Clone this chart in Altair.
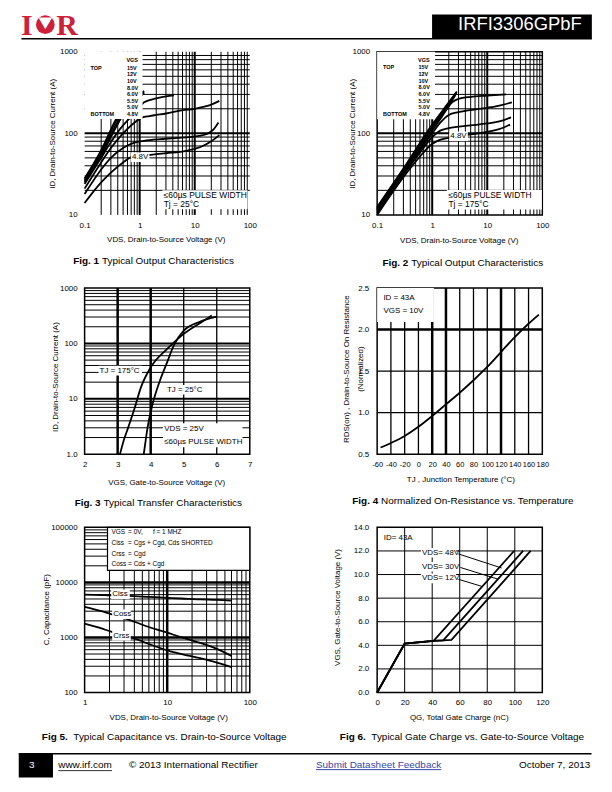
import altair as alt
import pandas as pd

FONT = "Liberation Sans"
SERIF = "Liberation Serif"
RED = "#cf1f3a"
LINK = "#3646a8"

W = 166
H1, H2, H3 = 164, 167, 166
O1 = (83.5, 49.0)  # page position of panel-1 plot origin (for page decorations)

# ---------------- Fig. 1 : Typical output characteristics, Tj = 25 C ----------------
f1_xticks = [0.1, 1, 10, 100]
f1_yticks = [10, 100, 1000]
f1_xgrid = [0.2, 0.3, 0.4, 0.5, 0.6, 0.7, 0.8, 0.9, 1, 2, 3, 4, 5, 6, 7, 8, 9, 10,
            20, 30, 40, 50, 60, 70, 80, 90]
f1_xmajor = [1, 10]
f1_ygrid = [20, 30, 40, 50, 60, 70, 80, 90, 100, 200, 300, 400, 500, 600, 700, 800, 900]
f1_ymajor = [100]
f1_legend = ["15V", "12V", "10V", "8.0V", "6.0V", "5.5V", "5.0V", "4.8V"]
f1_v_15 = [0.1, 0.2, 0.37, 0.6, 1.0, 1.2]
f1_i_15 = [28, 62, 148, 240, 300, 330]
f1_v_12 = [0.1, 0.2, 0.38, 0.6, 1.0, 1.2]
f1_i_12 = [27, 59, 145, 228, 292, 325]
f1_v_10 = [0.1, 0.2, 0.4, 0.6, 1.0, 1.2]
f1_i_10 = [26, 56, 140, 215, 285, 318]
f1_v_8 = [0.1, 0.2, 0.42, 0.6, 1.0, 1.2]
f1_i_8 = [25, 53, 138, 200, 275, 312]
f1_v_6 = [0.1, 0.2, 0.3, 0.45, 0.7, 1.0, 1.2, 2.0, 3.0, 4.2]
f1_i_6 = [24, 50, 78, 115, 160, 210, 240, 268, 283, 292]
f1_v_55 = [0.1, 0.2, 0.3, 0.5, 0.8, 1.1, 1.5, 2.0, 3.0, 6.0, 10, 15, 20, 28]
f1_i_55 = [21, 44, 66, 100, 135, 156, 163, 168, 175, 192, 200, 212, 225, 250]
f1_v_50 = [0.1, 0.2, 0.3, 0.5, 0.8, 1.2, 2.4, 5, 8, 12, 17, 22, 27]
f1_i_50 = [18, 36, 50, 66, 77, 81, 85, 88, 90, 93, 99, 112, 136]
f1_v_48 = [0.1, 0.2, 0.3, 0.5, 0.7, 1.0, 1.4, 3, 7, 14, 20, 28]
f1_i_48 = [14, 25, 33, 44, 51, 53, 54, 57, 61, 70, 80, 95]

# ---------------- Fig. 2 : Typical output characteristics, Tj = 175 C ----------------
f2_v_15 = [0.1, 0.3, 1.0, 2.0, 2.8]
f2_i_15 = [12.5, 37, 128, 240, 325]
f2_v_12 = [0.1, 0.3, 1.0, 2.0, 2.75]
f2_i_12 = [12.2, 36, 124, 233, 315]
f2_v_10 = [0.1, 0.3, 1.0, 2.0, 2.7]
f2_i_10 = [12.0, 35, 120, 226, 305]
f2_v_8 = [0.1, 0.3, 1.0, 2.0, 2.6]
f2_i_8 = [11.8, 34, 116, 218, 290]
f2_v_6 = [0.1, 0.3, 0.6, 1.0, 1.5, 2.3, 3.0, 5.0, 10, 22]
f2_i_6 = [11.5, 33, 65, 108, 160, 240, 265, 280, 290, 300]
f2_v_55 = [0.1, 0.3, 0.6, 1.0, 1.4, 2.0, 3.0, 7.0, 15, 28]
f2_i_55 = [11, 32, 62, 100, 135, 168, 182, 199, 215, 240]
f2_v_50 = [0.1, 0.3, 0.6, 1.0, 1.4, 2.0, 5.0, 10, 20, 27]
f2_i_50 = [10.5, 31, 58, 90, 108, 116, 125, 132, 145, 157]
f2_v_48 = [0.1, 0.3, 0.6, 0.9, 1.3, 2.0, 5.0, 10, 20, 26]
f2_i_48 = [10, 29, 52, 70, 82, 88, 97, 104, 118, 128]

# ---------------- Fig. 3 : Typical transfer characteristics ----------------
f3_xticks = [2, 3, 4, 5, 6, 7]
f3_yticks = [1, 10, 100, 1000]
f3_xgrid = [3, 4, 5, 6]
f3_xmajor = [3, 4]
f3_ygrid = [2, 3, 4, 5, 6, 7, 8, 9, 10, 20, 30, 40, 50, 60, 70, 80, 90, 100,
            200, 300, 400, 500, 600, 700, 800, 900]
f3_ymajor = [10, 100]
f3_vgs_175 = [3.07, 3.2, 3.31, 3.51, 3.71, 4.0, 4.5, 5.0, 5.5, 5.85]
f3_id_175 = [1.0, 1.9, 2.93, 6.7, 16.4, 37, 80, 149, 235, 320]
f3_vgs_25 = [3.79, 3.85, 3.9, 4.05, 4.3, 4.5, 4.7, 5.0, 5.5, 6.0]
f3_id_25 = [1.0, 1.8, 2.9, 7.7, 23, 46, 92, 170, 248, 305]

# ---------------- Fig. 4 : Normalized on-resistance vs temperature ----------------
f4_xticks = [-60, -40, -20, 0, 20, 40, 60, 80, 100, 120, 140, 160, 180]
f4_yticks = [0.5, 1.0, 1.5, 2.0, 2.5]
f4_xgrid = [-40, -20, 0, 20, 40, 60, 80, 100, 120, 140, 160]
f4_xmajor = [20, 40, 120]
f4_ygrid = [1.0, 1.5, 2.0]
f4_ymajor = [2.0]
f4_tj = [-55, -40, -20, 0, 20, 40, 60, 80, 100, 120, 140, 160, 175]
f4_rds = [0.58, 0.635, 0.72, 0.83, 0.96, 1.1, 1.24, 1.39, 1.55, 1.73, 1.91, 2.07, 2.18]

# ---------------- Fig. 5 : Typical capacitance vs VDS ----------------
f5_xticks = [1, 10, 100]
f5_yticks = [100, 1000, 10000, 100000]
f5_xgrid = [2, 3, 4, 5, 6, 7, 8, 9, 10, 20, 30, 40, 50, 60, 70, 80, 90]
f5_xmajor = [10]
f5_ygrid = [200, 300, 400, 500, 600, 700, 800, 900, 1000,
            2000, 3000, 4000, 5000, 6000, 7000, 8000, 9000, 10000,
            20000, 30000, 40000, 50000, 60000, 70000, 80000, 90000]
f5_ymajor = [1000, 10000]
f5_vds = [1, 1.6, 2, 3, 4, 6, 10, 15, 25, 40, 60]
f5_ciss = [6000, 5900, 5800, 5750, 5650, 5450, 5250, 5100, 4900, 4800, 4650]
f5_coss = [3600, 3000, 2700, 2250, 1930, 1550, 1220, 1000, 800, 620, 460]
f5_crss = [1780, 1460, 1300, 1100, 960, 760, 585, 500, 420, 350, 290]

# ---------------- Fig. 6 : Typical gate charge ----------------
f6_xticks = [0, 20, 40, 60, 80, 100, 120]
f6_yticks = [0, 2, 4, 6, 8, 10, 12, 14]
f6_xgrid = [20, 40, 60, 80, 100]
f6_ygrid = [2, 4, 6, 8, 10, 12]
f6_qg_48 = [0, 20, 41, 99.5]
f6_vgs_48 = [0, 4.15, 4.38, 12.0]
f6_qg_30 = [0, 20, 41, 48, 106]
f6_vgs_30 = [0, 4.15, 4.38, 4.42, 12.0]
f6_qg_12 = [0, 20, 41, 48, 54, 111.5]
f6_vgs_12 = [0, 4.15, 4.38, 4.42, 4.46, 12.0]
f6_lead_q1 = [59, 60.5, 59]
f6_lead_v1 = [11.75, 10.6, 9.6]
f6_lead_q2 = [90.5, 88, 76]
f6_lead_v2 = [10.55, 9.6, 9.0]

# ================= helpers =================
ONE = pd.DataFrame({"k": [0]})


def txt(x, y, s, size=8, align="left", weight="normal", color="black", font=FONT, baseline="middle"):
    return alt.Chart(ONE).mark_text(text=s, align=align, baseline=baseline, fontSize=size,
                                    fontWeight=weight, color=color, font=font).encode(
        x=alt.value(x), y=alt.value(y))


def rect(x, x2, y, y2, fill="white", stroke=None, sw=1.0):
    kw = dict(fill=fill, strokeWidth=sw)
    if stroke is not None:
        kw["stroke"] = stroke
    return alt.Chart(ONE).mark_rect(**kw).encode(
        x=alt.value(x), x2=alt.value(x2), y=alt.value(y), y2=alt.value(y2))


def hrule(x, x2, y, color="black", sw=1.0):
    return alt.Chart(ONE).mark_rule(color=color, strokeWidth=sw).encode(
        x=alt.value(x), x2=alt.value(x2), y=alt.value(y))


def bgtxt(x, y, s, size=8, pad=1.0):
    w = len(s) * size * 0.52
    return [rect(x - pad, x + w + pad, y - size * 0.6, y + size * 0.6), txt(x, y, s, size)]


def caption(x0, y, bold, rest, gap):
    return [txt(x0, y, bold, 10, weight="bold"), txt(x0 + 26.1 + gap, y, rest, 10)]


def xaxis(values, title, tx, ty, fmt=None, expr=None, size=8, pad=6.5):
    kw = dict(values=values, title=title, grid=False, ticks=False, tickSize=0, domain=False,
              labelFont=FONT, labelFontSize=size, labelColor="black", labelPadding=pad,
              labelFlush=False, labelOverlap=False, titleFont=FONT, titleFontSize=8,
              titleFontWeight="normal", titleColor="black", titleX=tx, titleY=ty,
              titleAlign="center", titleBaseline="middle", titleAngle=0, zindex=1)
    if fmt:
        kw["format"] = fmt
    if expr:
        kw["labelExpr"] = expr
    return alt.Axis(**kw)


def yaxis(values, title, tx, ty, fmt=None, expr=None, size=8, pad=7.5, lh=None):
    kw = dict(values=values, title=title, grid=False, ticks=False, tickSize=0, domain=False,
              labelFont=FONT, labelFontSize=size, labelColor="black", labelPadding=pad,
              labelFlush=False, labelOverlap=False, titleFont=FONT, titleFontSize=8,
              titleFontWeight="normal", titleColor="black", titleX=tx, titleY=ty,
              titleAlign="center", titleBaseline="middle", titleAngle=270, zindex=1)
    if fmt:
        kw["format"] = fmt
    if expr:
        kw["labelExpr"] = expr
    if lh:
        kw["titleLineHeight"] = lh
    return alt.Axis(**kw)


def encoders(xscale, yscale, xax, yax):
    X = lambda f: alt.X(f, type="quantitative", scale=xscale, axis=xax)
    Y = lambda f: alt.Y(f, type="quantitative", scale=yscale, axis=yax)
    return X, Y


def grid(vals, major, enc, orient, thick=2.0, thin=1.0):
    df = pd.DataFrame({"v": vals, "w": [thick if v in major else thin for v in vals]})
    ch = alt.Chart(df).mark_rule(color="black")
    if orient == "v":
        return ch.encode(x=enc("v"), strokeWidth=alt.StrokeWidth("w:Q", scale=None))
    return ch.encode(y=enc("v"), strokeWidth=alt.StrokeWidth("w:Q", scale=None))


def curves(series, X, Y, sw=1.8, interp="monotone"):
    rows = []
    for name, xs, ys in series:
        for a, b in zip(xs, ys):
            rows.append({"s": name, "x": a, "y": b})
    return alt.Chart(pd.DataFrame(rows)).mark_line(
        color="black", strokeWidth=sw, interpolate=interp).encode(
        x=X("x"), y=Y("y"), detail="s:N")


def legend_block(vx, top, step):
    out = [rect(0, 58.2, 0, top + 7 * step + 5),
           txt(vx - 0.5, top - 7.5, "VGS", 5.5, weight="bold"),
           txt(6, top, "TOP", 5.5, weight="bold"),
           txt(6, top + 7 * step, "BOTTOM", 5.5, weight="bold")]
    for k, s in enumerate(f1_legend):
        out.append(txt(vx, top + k * step, s, 5.5, weight="bold"))
    return out


P = lambda x: x - O1[0]
Q = lambda y: y - O1[1]

# ================= panel 1 =================
X1, Y1 = encoders(alt.Scale(type="log", domain=[0.1, 100], nice=False),
                  alt.Scale(type="log", domain=[10, 1000], nice=False),
                  xaxis(f1_xticks, "VDS, Drain-to-Source Voltage (V)", 81.5, 25, fmt="~g"),
                  yaxis(f1_yticks, "ID, Drain-to-Source Current (A)", -31.8, 82, fmt="~g"))
p1_layers = [
    rect(P(8), P(604), Q(8), Q(784)),  # page
    grid(f1_xgrid, f1_xmajor, X1, "v"),
    grid(f1_ygrid, f1_ymajor, Y1, "h"),
    curves([("15V", f1_v_15, f1_i_15), ("12V", f1_v_12, f1_i_12), ("10V", f1_v_10, f1_i_10),
            ("8.0V", f1_v_8, f1_i_8), ("6.0V", f1_v_6, f1_i_6), ("5.5V", f1_v_55, f1_i_55),
            ("5.0V", f1_v_50, f1_i_50), ("4.8V", f1_v_48, f1_i_48)], X1, Y1),
]
p1_layers += legend_block(42.5, 16, 6.67)
p1_layers += bgtxt(47.5, 106, "4.8V")
p1_layers += [rect(78.2, 163.8, 139.3, 158.3),
              txt(79.5, 144, "≤60µs PULSE WIDTH", 8.5),
              txt(79.5, 153.5, "Tj = 25°C", 8.5)]
p1_layers += caption(-11.5, 210.5, "Fig. 1", "Typical Output Characteristics", 2.8)
# page header
p1_layers += [
    txt(P(19.5), Q(31.8), "I", 30, weight="bold", color=RED, font=SERIF, baseline="alphabetic"),
    alt.Chart(ONE).mark_circle(color=RED, size=350, opacity=1).encode(
        x=alt.value(P(44)), y=alt.value(Q(21.8))),
    alt.Chart(ONE).mark_point(shape="triangle-down", filled=True, fill="white", color="white",
                              size=190, opacity=1).encode(x=alt.value(P(44)), y=alt.value(Q(20.5))),
    txt(P(55), Q(31.8), "R", 30, weight="bold", color=RED, font=SERIF, baseline="alphabetic"),
    rect(P(432.7), P(593.3), Q(11.7), Q(35.7), fill="black"),
    hrule(P(20), P(593.3), Q(36), sw=1.5),
    txt(P(521), Q(21), "IRFI3306GPbF", 18.5, align="center", color="white"),
]
# page footer
p1_layers += [
    hrule(P(17.3), P(593), Q(754.5), sw=1.5),
    rect(P(17.3), P(51.7), Q(754.5), Q(778.3), fill="black"),
    txt(P(30.3), Q(765.5), "3", 10, align="center", color="white"),
    txt(P(57), Q(765.5), "www.irf.com", 10),
    hrule(P(57), P(111), Q(771.5), color="#333333", sw=1),
    txt(P(128), Q(765.5), "© 2013 International Rectifier", 10),
    txt(P(316), Q(765.5), "Submit Datasheet Feedback", 10, color=LINK),
    hrule(P(316), P(442), Q(770.5), color=LINK, sw=1),
    txt(P(591.7), Q(765.5), "October 7, 2013", 10, align="right"),
]
p1 = alt.layer(*p1_layers).properties(width=W, height=H1)

# ================= panel 2 =================
X2, Y2 = encoders(alt.Scale(type="log", domain=[0.1, 100], nice=False),
                  alt.Scale(type="log", domain=[10, 1000], nice=False),
                  xaxis(f1_xticks, "VDS, Drain-to-Source Voltage (V)", 82, 26, fmt="~g"),
                  yaxis(f1_yticks, "ID, Drain-to-Source Current (A)", -25, 82, fmt="~g"))
p2_layers = [
    grid(f1_xgrid, f1_xmajor, X2, "v"),
    grid(f1_ygrid, f1_ymajor, Y2, "h"),
    curves([("15V", f2_v_15, f2_i_15), ("12V", f2_v_12, f2_i_12), ("10V", f2_v_10, f2_i_10),
            ("8.0V", f2_v_8, f2_i_8), ("6.0V", f2_v_6, f2_i_6), ("5.5V", f2_v_55, f2_i_55),
            ("5.0V", f2_v_50, f2_i_50), ("4.8V", f2_v_48, f2_i_48)], X2, Y2),
]
p2_layers += legend_block(41.6, 15.5, 6.75)
p2_layers += bgtxt(73.5, 85, "4.8V")
p2_layers += [rect(70, 165.5, 139, 158.5),
              txt(71.6, 144.5, "≤60µs PULSE WIDTH", 8.5),
              txt(71.6, 153.5, "Tj = 175°C", 8.5)]
p2_layers += caption(5.3, 212, "Fig. 2", "Typical Output Characteristics", 2.8)
p2 = alt.layer(*p2_layers).properties(width=W, height=H1)

# ================= panel 3 =================
X3, Y3 = encoders(alt.Scale(type="linear", domain=[2, 7], nice=False, zero=False),
                  alt.Scale(type="log", domain=[1, 1000], nice=False),
                  xaxis(f3_xticks, "VGS, Gate-to-Source Voltage (V)", 82, 28, fmt="d"),
                  yaxis(f3_yticks, "ID, Drain-to-Source Current  (A)", -29.7, 89,
                        expr="datum.value == 1 ? '1.0' : format(datum.value, '~g')"))
p3_layers = [
    grid(f3_xgrid, f3_xmajor, X3, "v", thick=2.5, thin=1.3),
    grid(f3_ygrid, f3_ymajor, Y3, "h"),
    curves([("175", f3_vgs_175, f3_id_175), ("25", f3_vgs_25, f3_id_25)], X3, Y3),
]
p3_layers += bgtxt(15, 83, "TJ = 175°C")
p3_layers += bgtxt(82.7, 102.3, "TJ = 25°C")
p3_layers += [rect(78.7, 158.7, 136, 160),
              txt(80, 142, "VDS = 25V", 8),
              txt(80, 155, "≤60µs PULSE WIDTH", 8)]
p3_layers += caption(-10, 216.5, "Fig. 3", "Typical Transfer Characteristics", 2.8)
p3 = alt.layer(*p3_layers).properties(width=W, height=H2)

# ================= panel 4 =================
X4, Y4 = encoders(alt.Scale(type="linear", domain=[-60, 180], nice=False, zero=False),
                  alt.Scale(type="linear", domain=[0.5, 2.5], nice=False, zero=False),
                  xaxis(f4_xticks, "TJ , Junction Temperature (°C)", 83.6, 25.3,
                        expr="'' + datum.value", size=7.5),
                  yaxis(f4_yticks, ["RDS(on) , Drain-to-Source On Resistance", "(Normalized)"],
                        -31, 81, fmt=".1f", pad=8.4, lh=14))
p4_layers = [
    grid(f4_xgrid, f4_xmajor, X4, "v", thick=2.5, thin=1.3),
    grid(f4_ygrid, f4_ymajor, Y4, "h", thick=2.5, thin=1.3),
    rect(0, 57, 0, 34),
    curves([("rds", f4_tj, f4_rds)], X4, Y4),
    txt(6.3, 10.3, "ID = 43A", 8),
    txt(6.3, 22.6, "VGS = 10V", 8),
]
p4_layers += caption(-25, 214.5, "Fig. 4", "Normalized On-Resistance vs. Temperature", 2.8)
p4 = alt.layer(*p4_layers).properties(width=W, height=H2)

# ================= panel 5 =================
X5, Y5 = encoders(alt.Scale(type="log", domain=[1, 100], nice=False),
                  alt.Scale(type="log", domain=[100, 100000], nice=False),
                  xaxis(f5_xticks, "VDS, Drain-to-Source Voltage (V)", 84, 25, fmt="~g"),
                  yaxis(f5_yticks, "C, Capacitance (pF)", -38.7, 82.3, fmt="~g"))
p5_layers = [
    grid(f5_xgrid, f5_xmajor, X5, "v", thick=2.5, thin=1.0),
    grid(f5_ygrid, f5_ymajor, Y5, "h", thick=2.5, thin=1.0),
    curves([("Ciss", f5_vds, f5_ciss), ("Coss", f5_vds, f5_coss), ("Crss", f5_vds, f5_crss)],
           X5, Y5),
    rect(23, 166, 0, 43.3, fill="white", stroke="black", sw=1.2),
    txt(27, 5, "VGS", 6.5), txt(43.7, 5, "= 0V,", 6.5), txt(68.7, 5, "f = 1 MHZ", 6.5),
    txt(27, 16, "Ciss", 6.5), txt(43.7, 16, "= Cgs + Cgd,  Cds SHORTED", 6.5),
    txt(27, 26.8, "Crss", 6.5), txt(43.7, 26.8, "= Cgd", 6.5),
    txt(27, 37, "Coss", 6.5), txt(43.7, 37, "= Cds + Cgd", 6.5),
]
p5_layers += bgtxt(27.7, 67.3, "Ciss")
p5_layers += bgtxt(28.7, 87.3, "Coss")
p5_layers += bgtxt(28.7, 109, "Crss")
p5_layers += caption(-43, 210.5, "Fig 5.", "Typical Capacitance vs. Drain-to-Source Voltage", 5.6)
p5 = alt.layer(*p5_layers).properties(width=W, height=H3)

# ================= panel 6 =================
X6, Y6 = encoders(alt.Scale(type="linear", domain=[0, 120], nice=False, zero=False),
                  alt.Scale(type="linear", domain=[0, 14], nice=False, zero=False),
                  xaxis(f6_xticks, "QG,  Total Gate Charge (nC)", 82, 25, fmt="d"),
                  yaxis(f6_yticks, "VGS, Gate-to-Source Voltage (V)", -40, 80, fmt=".1f",
                        pad=8.4))
lead = pd.DataFrame({"q1": f6_lead_q1, "v1": f6_lead_v1, "q2": f6_lead_q2, "v2": f6_lead_v2})
p6_layers = [
    grid(f6_xgrid, [], X6, "v"),
    grid(f6_ygrid, [], Y6, "h"),
    curves([("48V", f6_qg_48, f6_vgs_48), ("30V", f6_qg_30, f6_vgs_30),
            ("12V", f6_qg_12, f6_vgs_12)], X6, Y6, interp="linear"),
    alt.Chart(lead).mark_rule(color="black", strokeWidth=1).encode(
        x=X6("q1"), y=Y6("v1"), x2="q2", y2="v2"),
    txt(6.6, 10.6, "ID= 43A", 8),
]
p6_layers += bgtxt(45, 25.6, "VDS= 48V")
p6_layers += bgtxt(45, 39.6, "VDS= 30V")
p6_layers += bgtxt(45, 51.3, "VDS= 12V")
p6_layers += caption(-37.5, 210.5, "Fig 6.", "Typical Gate Charge vs. Gate-to-Source Voltage", 5.6)
p6 = alt.layer(*p6_layers).properties(width=W, height=H3)

chart = alt.concat(
    p1, p2, p3, p4, p5, p6, columns=2, spacing={"row": 73.5, "column": 128},
    bounds="flush", align="each"
).properties(padding=0).configure(font=FONT).configure_view(stroke="black", strokeWidth=1.5)

chart.save("out.html", embed_options={"renderer": "svg", "actions": False})
